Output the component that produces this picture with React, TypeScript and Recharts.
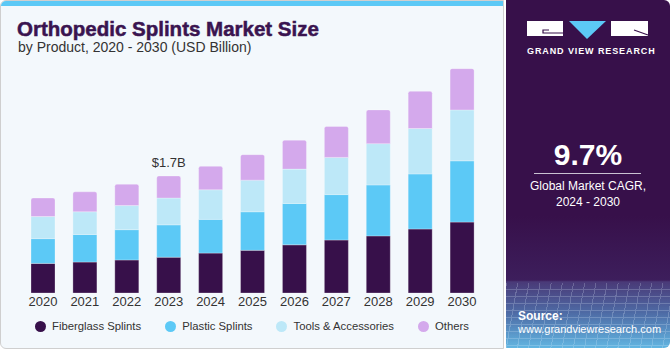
import React from "react";
import { BarChart, Bar, XAxis, YAxis } from "recharts";

const years = ["2020", "2021", "2022", "2023", "2024", "2025", "2026", "2027", "2028", "2029", "2030"];
const fiberglass = [0.43, 0.45, 0.48, 0.52, 0.58, 0.62, 0.7, 0.77, 0.83, 0.93, 1.03];
const plastic = [0.36, 0.4, 0.44, 0.47, 0.49, 0.56, 0.6, 0.66, 0.74, 0.8, 0.89];
const tools = [0.32, 0.33, 0.35, 0.39, 0.43, 0.46, 0.5, 0.54, 0.6, 0.66, 0.74];
const others = [0.27, 0.29, 0.31, 0.32, 0.34, 0.37, 0.42, 0.45, 0.49, 0.54, 0.6];
const labelledYear = "2023";

const series = [
  { key: "fiberglass", name: "Fiberglass Splints", color: "#37104a" },
  { key: "plastic", name: "Plastic Splints", color: "#5cc9f6" },
  { key: "tools", name: "Tools & Accessories", color: "#bde8f8" },
  { key: "others", name: "Others", color: "#d4a9ec" },
];

const data = years.map((year, i) => ({
  year,
  fiberglass: fiberglass[i],
  plastic: plastic[i],
  tools: tools[i],
  others: others[i],
}));

const FONT = '"Liberation Sans", Arial, sans-serif';

function TotalLabel(props: any) {
  const { x, y, width, index } = props;
  if (years[index] !== labelledYear) return null;
  const total = fiberglass[index] + plastic[index] + tools[index] + others[index];
  return (
    <text x={x + width / 2} y={y - 9} textAnchor="middle" fontSize={13} fill="#333" fontFamily={FONT}>
      {`$${total.toFixed(1)}B`}
    </text>
  );
}

function Logo() {
  return (
    <svg width={122} height={20} style={{ position: "absolute", left: 527, top: 21 }}>
      <rect x={0} y={0} width={36} height={15} fill="#fff" />
      <polyline points="22,9 16,9 16,12 36,12" fill="none" stroke="#37104a" strokeWidth={1.2} />
      <polygon points="42,0 79,0 60,18" fill="#5cc9f6" />
      <rect x={84} y={0} width={37} height={15} fill="#fff" />
      <line x1={107} y1={9} x2={121} y2={14} stroke="#37104a" strokeWidth={1.2} />
    </svg>
  );
}

export default function App() {
  return (
    <div style={{ position: "relative", width: 671, height: 350, background: "#fff", fontFamily: FONT, overflow: "hidden" }}>
      <style>{`body{margin:0}`}</style>
      {/* left card */}
      <div
        style={{
          position: "absolute",
          left: 0,
          top: 0,
          width: 504,
          height: 349,
          background: "#f3f8fc",
          border: "1px solid #cfcfcf",
          borderRadius: "6px 0 0 6px",
          boxSizing: "border-box",
          overflow: "hidden",
        }}
      >
        <div style={{ position: "absolute", left: 0, top: 0, width: "100%", height: 5, background: "#5cc9f6" }} />
      </div>
      <div
        style={{
          position: "absolute",
          left: 17,
          top: 17,
          fontSize: 20.5,
          fontWeight: 900,
          color: "#3a1450",
          WebkitTextStroke: "0.5px #3a1450",
          whiteSpace: "nowrap",
        }}
      >
        Orthopedic Splints Market Size
      </div>
      <div style={{ position: "absolute", left: 18, top: 39, fontSize: 14, color: "#333", whiteSpace: "nowrap" }}>
        by Product, 2020 - 2030 (USD Billion)
      </div>

      <div style={{ position: "absolute", left: 0, top: 0 }}>
        <BarChart width={505} height={320} data={data} margin={{ top: 59, right: 22, left: 22, bottom: 7 }}>
          <XAxis
            dataKey="year"
            height={20}
            axisLine={false}
            tickLine={false}
            tickSize={0}
            tickMargin={4}
            interval={0}
            tick={{ fontSize: 13, fill: "#333", fontFamily: FONT }}
          />
          <YAxis hide domain={[0, 3.4]} />
          {series.map((s, i) => (
            <Bar
              key={s.key}
              dataKey={s.key}
              stackId="a"
              fill={s.color}
              barSize={24}
              stroke="rgba(255,255,255,0.35)"
              strokeWidth={0.8}
              radius={i === series.length - 1 ? [2, 2, 0, 0] : 0}
              isAnimationActive={false}
              label={i === series.length - 1 ? <TotalLabel /> : undefined}
            />
          ))}
        </BarChart>
      </div>

      {/* legend */}
      <div style={{ position: "absolute", left: 35, top: 320, display: "flex", alignItems: "center", fontSize: 11.3, color: "#333" }}>
        {series.map((s, i) => (
          <div key={s.key} style={{ display: "flex", alignItems: "center", marginRight: i < series.length - 1 ? 24 : 0 }}>
            <span style={{ width: 11, height: 11, borderRadius: "50%", background: s.color, marginRight: 6, display: "inline-block" }} />
            <span>{s.name}</span>
          </div>
        ))}
      </div>

      {/* right panel */}
      <div
        style={{
          position: "absolute",
          left: 506,
          top: 0,
          width: 164,
          height: 348,
          background:
            "linear-gradient(180deg, #37104a 0%, #37104a 62%, #3d1e5c 80.5%, #4a3a78 81%, #4f6ca6 90%, #62b6e2 100%)",
          borderRadius: "0 6px 6px 0",
          overflow: "hidden",
        }}
      >
        <div
          style={{
            position: "absolute",
            left: 0,
            top: 283,
            width: "100%",
            height: 70,
            opacity: 0.22,
            backgroundImage:
              "repeating-linear-gradient(100deg, #e3f0ff 0 1px, transparent 1px 11px), repeating-linear-gradient(0deg, #e3f0ff 0 1px, transparent 1px 7px)",
          }}
        />
      </div>
      <Logo />
      <div style={{ position: "absolute", left: 527, width: 122, top: 46, textAlign: "center", color: "#fff", fontSize: 9, fontWeight: 700, letterSpacing: 0.9, whiteSpace: "nowrap" }}>
        GRAND VIEW RESEARCH
      </div>
      <div style={{ position: "absolute", left: 506, width: 164, top: 138, textAlign: "center", color: "#fff", fontSize: 30, fontWeight: 700 }}>
        9.7%
      </div>
      <div style={{ position: "absolute", left: 534, top: 173, width: 107, height: 1, background: "#c9c2d2" }} />
      <div style={{ position: "absolute", left: 506, width: 164, top: 178, textAlign: "center", color: "#fff", fontSize: 12, lineHeight: "16px" }}>
        Global Market CAGR,
        <br />
        2024 - 2030
      </div>
      <div style={{ position: "absolute", left: 518, top: 309, color: "#fff", fontSize: 12, fontWeight: 700 }}>Source:</div>
      <div style={{ position: "absolute", left: 518, top: 323, color: "#fff", fontSize: 11 }}>www.grandviewresearch.com</div>
    </div>
  );
}
